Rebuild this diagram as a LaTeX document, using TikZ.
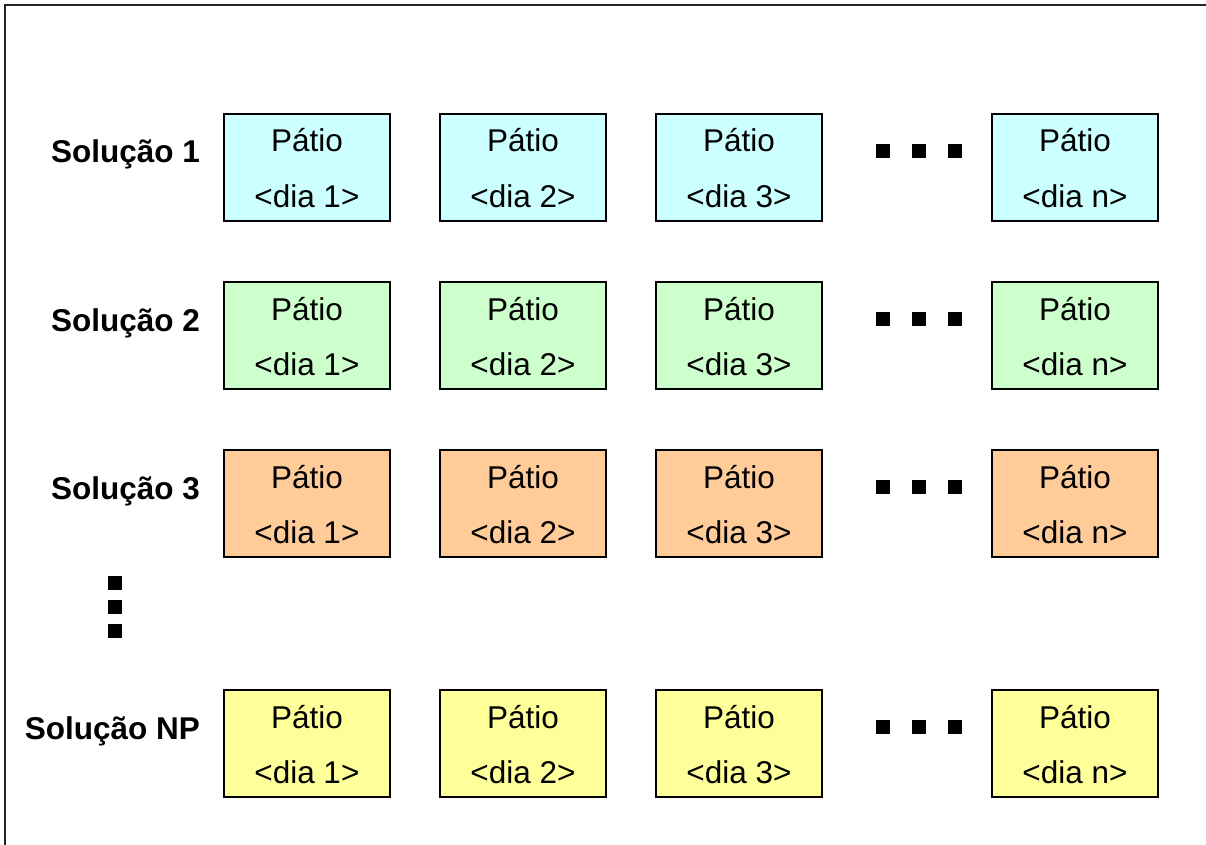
\documentclass[tikz,border=0pt]{standalone}
\usepackage{fontspec}
\setmainfont{Liberation Sans}
\usetikzlibrary{calc,shadows}
\definecolor{solA}{HTML}{CCFFFF}
\definecolor{solB}{HTML}{CCFFCC}
\definecolor{solC}{HTML}{FFCC99}
\definecolor{solD}{HTML}{FFFF99}
\begin{document}
\begin{tikzpicture}[x=1pt,y=-1pt,
  patio/.style={draw=black, line width=1.8pt, minimum width=166pt, minimum height=107pt,
    inner sep=0pt, anchor=north west,
    general shadow={shadow xshift=1.5pt, shadow yshift=-1.5pt, fill=black!45}},
  txt/.style={anchor=base, inner sep=0pt, font=\fontsize{31.5}{36}\selectfont},
  rowlabel/.style={anchor=base east, inner sep=0pt, font=\fontsize{31.5}{36}\selectfont\bfseries},
  sqdot/.style={fill=black, draw=none, minimum size=13.5pt, inner sep=0pt}]
\useasboundingbox (0,0) rectangle (1206,845);
% frame (top and left edges)
\draw[line width=2pt, black!85] (5,846) -- (5,5) -- (1207,5);
% rows of yard boxes
\foreach \r/\y/\col/\lab in {1/113/solA/Solução 1, 2/281/solB/Solução 2,
                             3/449/solC/Solução 3, 4/689/solD/Solução NP} {
  \node[rowlabel] (lab\r) at (200,\y+50) {\lab};
  \foreach \c/\x/\d in {1/223/1, 2/439/2, 3/655/3, 4/991/n} {
    \node[patio, fill=\col] (b\r\c) at (\x,\y) {};
    \node[txt] (p\r\c) at ($(b\r\c.north)+(0,39)$) {Pátio};
    \node[txt] (d\r\c) at ($(b\r\c.north)+(0,94)$) {<dia \d>};
  }
  \foreach \k/\x in {1/883, 2/919, 3/955}
    \node[sqdot] (h\r\k) at (\x,\y+38) {};
}
% vertical ellipsis between row 3 and row NP
\foreach \k/\y in {1/583, 2/607, 3/631}
  \node[sqdot] (v\k) at (115,\y) {};
\end{tikzpicture}
\end{document}
